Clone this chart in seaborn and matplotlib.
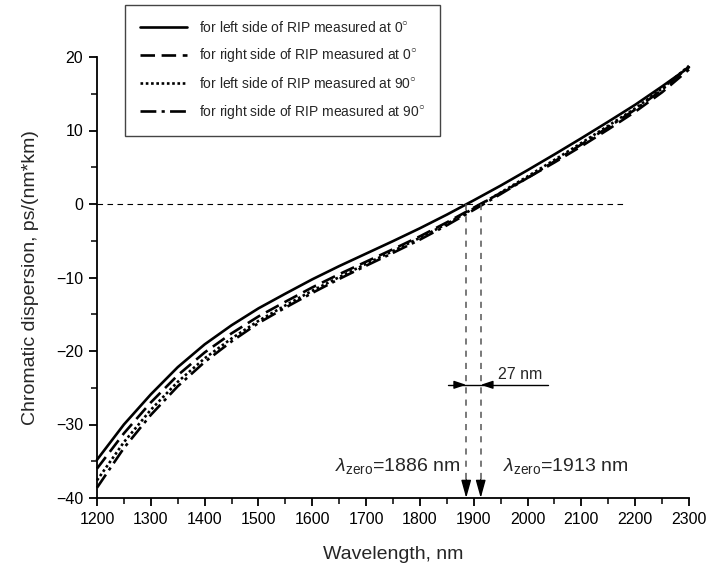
import numpy as np
import pandas as pd
import matplotlib
matplotlib.use("Agg")
import matplotlib.pyplot as plt
import seaborn as sns

# Wavelength grid (nm) and chromatic dispersion, ps/(nm*km)
wavelength = [1200, 1250, 1300, 1350, 1400, 1450, 1500, 1550, 1600, 1650, 1700, 1750,
              1800, 1850, 1900, 1950, 2000, 2050, 2100, 2150, 2200, 2250, 2300]
left_0 = [-34.8, -30.0, -25.9, -22.2, -19.1, -16.5, -14.2, -12.2, -10.25, -8.45, -6.75, -5.05,
          -3.3, -1.45, 0.5, 2.5, 4.6, 6.75, 8.95, 11.2, 13.5, 16.0, 18.6]
right_0 = [-36.0, -31.2, -27.0, -23.3, -20.2, -17.6, -15.3, -13.3, -11.35, -9.55, -7.85, -6.15,
           -4.4, -2.5, -0.5, 1.5, 3.55, 5.65, 7.85, 10.15, 12.55, 15.2, 18.3]
left_90 = [-37.6, -32.4, -28.0, -24.2, -21.0, -18.3, -15.9, -13.8, -11.8, -9.95, -8.15, -6.4,
           -4.6, -2.7, -0.6, 1.55, 3.75, 6.0, 8.3, 10.65, 13.0, 15.7, 18.8]
right_90 = [-38.6, -33.2, -28.7, -24.8, -21.5, -18.7, -16.2, -14.1, -12.1, -10.2, -8.4, -6.65,
            -4.85, -2.9, -0.8, 1.35, 3.55, 5.8, 8.1, 10.45, 12.85, 15.55, 18.7]

series_labels = [
    r"for left side of RIP measured at 0$^{\bigcirc}$",
    r"for right side of RIP measured at 0$^{\bigcirc}$",
    r"for left side of RIP measured at 90$^{\bigcirc}$",
    r"for right side of RIP measured at 90$^{\bigcirc}$",
]

# Zero-dispersion wavelengths, nm
zero_left = 1886
zero_right = 1913

x_ticks = list(range(1200, 2301, 100))
y_ticks = list(range(-40, 21, 10))

sns.set_theme(style="ticks")
plt.rcParams["font.family"] = ["Liberation Sans", "DejaVu Sans"]
plt.rcParams["mathtext.fontset"] = "custom"
plt.rcParams["mathtext.rm"] = "Liberation Sans"
plt.rcParams["mathtext.it"] = "Liberation Sans:italic"
plt.rcParams["mathtext.sf"] = "Liberation Sans"

fig = plt.figure(figsize=(7.07, 5.67), dpi=100)
ax = fig.add_axes([97 / 707, 1 - 498 / 567, (689 - 97) / 707, (498 - 57) / 567])

styles = ["-", (0, (5.5, 2.5)), (0, (1, 1)), (0, (6, 2, 1.2, 2))]
for vals, lab, ls in zip([left_0, right_0, left_90, right_90], series_labels, styles):
    df = pd.DataFrame({"wavelength": wavelength, "D": vals})
    sns.lineplot(data=df, x="wavelength", y="D", ax=ax, color="black", linewidth=1.9,
                 linestyle=ls, label=lab, clip_on=False)

# zero-dispersion reference line
ax.plot([1200, 2185], [0, 0], color="black", lw=0.8, linestyle=(0, (5, 4)))

# drop lines from the zero crossings to the wavelength axis
for z in (zero_left, zero_right):
    ax.plot([z, z], [0, -38], color="#555555", lw=1.1, linestyle=(0, (4, 4)))
    ax.annotate("", xy=(z, -40), xytext=(z, -37.5),
                arrowprops=dict(arrowstyle="-|>,head_length=0.9,head_width=0.25",
                                color="black", lw=1.0, shrinkA=0, shrinkB=0),
                annotation_clip=False)

# separation marker between the two zero wavelengths
y_sep = -24.6
ax.plot([1852, 2038], [y_sep, y_sep], color="black", lw=1.0)
ax.annotate("", xy=(zero_left, y_sep), xytext=(1866, y_sep),
            arrowprops=dict(arrowstyle="-|>,head_length=0.6,head_width=0.2",
                            color="black", lw=1.0, shrinkA=0, shrinkB=0))
ax.annotate("", xy=(zero_right, y_sep), xytext=(1933, y_sep),
            arrowprops=dict(arrowstyle="-|>,head_length=0.6,head_width=0.2",
                            color="black", lw=1.0, shrinkA=0, shrinkB=0))
ax.text(1945, y_sep + 0.4, f"{zero_right - zero_left} nm", fontsize=11.5,
        ha="left", va="bottom")

ax.text(1875, -35.6, r"$\lambda_{\mathrm{zero}}$" + f"={zero_left} nm", fontsize=14,
        ha="right", va="center")
ax.text(1955, -35.6, r"$\lambda_{\mathrm{zero}}$" + f"={zero_right} nm", fontsize=14,
        ha="left", va="center")

ax.set_xlim(1200, 2300)
ax.set_ylim(-40, 20)
ax.set_xticks(x_ticks)
ax.set_yticks(y_ticks)
ax.set_xticks(range(1250, 2300, 100), minor=True)
ax.set_yticks(range(-35, 20, 10), minor=True)
ax.tick_params(which="major", direction="out", length=6, width=1.3, labelsize=11.5,
               colors="black", pad=4)
ax.tick_params(which="minor", direction="out", length=4, width=1.3)
for s in ("top", "right"):
    ax.spines[s].set_visible(False)
for s in ("left", "bottom"):
    ax.spines[s].set_linewidth(1.3)
    ax.spines[s].set_color("black")
ax.spines["left"].set_bounds(-40, 20)

ax.set_xlabel("Wavelength, nm", fontsize=14, labelpad=14)
ax.set_ylabel("Chromatic dispersion, ps/(nm*km)", fontsize=14, labelpad=12)

leg = ax.legend(loc="upper left", bbox_to_anchor=(125 / 707, 1 - 5 / 567),
                bbox_transform=fig.transFigure, borderaxespad=0, fontsize=10,
                frameon=True, fancybox=False, framealpha=1, handlelength=3.4,
                handletextpad=0.9, labelspacing=0.85, borderpad=1.05)
leg.get_frame().set_edgecolor("#444444")
leg.get_frame().set_linewidth(1.0)

fig.savefig("out.png", dpi=100)
